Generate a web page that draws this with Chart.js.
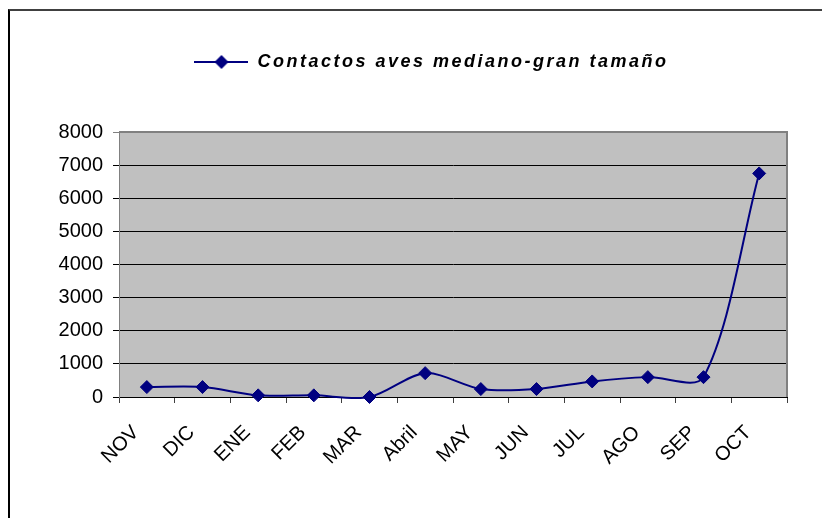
<!DOCTYPE html>
<html lang="es">
<head>
<meta charset="UTF-8">
<title>Contactos aves mediano-gran tamaño</title>
<script src="https://cdn.jsdelivr.net/npm/chart.js"></script>
<style>
    html, body { margin: 0; padding: 0; background: #fff; overflow: hidden; }
    #wrap { position: relative; width: 822px; height: 518px; }
    #frame {
        position: absolute; left: 8px; top: 9px; width: 900px; height: 600px;
        border-top: 2px solid #404040; border-left: 2px solid #000;
        pointer-events: none;
    }
    canvas { position: absolute; left: 0; top: 0; }
</style>
</head>
<body>
<div id="wrap">
    <canvas id="chart" width="822" height="518"></canvas>
    <div id="frame"></div>
</div>
<script>
// data
const months = ['NOV', 'DIC', 'ENE', 'FEB', 'MAR', 'Abril', 'MAY', 'JUN', 'JUL', 'AGO', 'SEP', 'OCT'];
const contactos = [300, 300, 50, 50, 0, 720, 240, 240, 470, 600, 600, 6750];
const seriesName = 'Contactos aves mediano-gran tamaño';
const yMin = 0, yMax = 8000, yStep = 1000;

const FONT = "'Liberation Sans', Arial, sans-serif";
const NAVY = '#000080';

// legend symbol: short line with a diamond in the middle
const legendSymbol = document.createElement('canvas');
legendSymbol.width = 54;
legendSymbol.height = 16;
(function () {
    const c = legendSymbol.getContext('2d');
    c.strokeStyle = NAVY;
    c.lineWidth = 2;
    c.beginPath();
    c.moveTo(0, 8);
    c.lineTo(54, 8);
    c.stroke();
    c.fillStyle = NAVY;
    c.beginPath();
    c.moveTo(27, 1);
    c.lineTo(34, 8);
    c.lineTo(27, 15);
    c.lineTo(20, 8);
    c.closePath();
    c.fill();
})();

// grey plot area + grey top/right border, legend spacing tweaks
const excelLook = {
    id: 'excelLook',
    beforeInit(chart) {
        const lg = chart.legend;
        const fit = lg.fit, draw = lg.draw;
        lg.fit = function () {
            this.ctx.save();
            this.ctx.letterSpacing = '2.5px';
            fit.call(this);
            this.ctx.restore();
            this.height = 132;
        };
        lg.draw = function () {
            this.ctx.save();
            this.ctx.translate(38, 0);
            this.ctx.letterSpacing = '2.5px';
            draw.call(this);
            this.ctx.restore();
        };
    },
    beforeDraw(chart) {
        const {ctx, chartArea: a} = chart;
        ctx.save();
        ctx.fillStyle = '#C0C0C0';
        ctx.fillRect(a.left, a.top, a.right - a.left, a.bottom - a.top);
        ctx.restore();
    },
    beforeDatasetsDraw(chart) {
        const {ctx, chartArea: a} = chart;
        ctx.save();
        ctx.strokeStyle = '#808080';
        ctx.lineWidth = 2;
        ctx.beginPath();
        ctx.moveTo(a.left, a.top);
        ctx.lineTo(a.right, a.top);
        ctx.lineTo(a.right, a.bottom);
        ctx.stroke();
        ctx.restore();
    }
};

new Chart(document.getElementById('chart'), {
    type: 'line',
    data: {
        labels: months,
        datasets: [{
            label: seriesName,
            data: contactos,
            borderColor: NAVY,
            backgroundColor: NAVY,
            borderWidth: 2,
            tension: 0.3,
            capBezierPoints: false,
            clip: false,
            pointStyle: 'rectRot',
            pointRadius: 6.5,
            pointBackgroundColor: NAVY,
            pointBorderColor: NAVY,
            pointBorderWidth: 1
        }]
    },
    options: {
        responsive: false,
        animation: false,
        layout: { padding: { left: 0, right: 35, top: 0, bottom: 0 } },
        plugins: {
            tooltip: { enabled: false },
            legend: {
                position: 'top',
                align: 'center',
                labels: {
                    usePointStyle: true,
                    pointStyle: legendSymbol,
                    pointStyleWidth: 54,
                    padding: 53,
                    color: '#000',
                    font: { family: FONT, size: 18, style: 'italic', weight: 'bold' }
                }
            }
        },
        scales: {
            x: {
                offset: true,
                afterFit(scale) { scale.height = 121; },
                grid: {
                    offset: true,
                    drawOnChartArea: false,
                    drawTicks: true,
                    tickLength: 6,
                    color: '#404040'
                },
                border: { color: '#000', width: 1 },
                ticks: {
                    autoSkip: false,
                    minRotation: 45,
                    maxRotation: 45,
                    padding: 18,
                    labelOffset: -11,
                    color: '#000',
                    font: { family: FONT, size: 20 }
                }
            },
            y: {
                min: yMin,
                max: yMax,
                afterFit(scale) { scale.width = 119; },
                grid: {
                    color: (c) => c.tick && c.tick.value === yMax ? '#808080' : '#000',
                    tickLength: 6,
                    lineWidth: 1
                },
                border: { color: '#808080', width: 1 },
                ticks: {
                    stepSize: yStep,
                    padding: 10,
                    color: '#000',
                    font: { family: FONT, size: 20 },
                    callback: (v) => String(v)
                }
            }
        }
    },
    plugins: [excelLook]
});
</script>
</body>
</html>
